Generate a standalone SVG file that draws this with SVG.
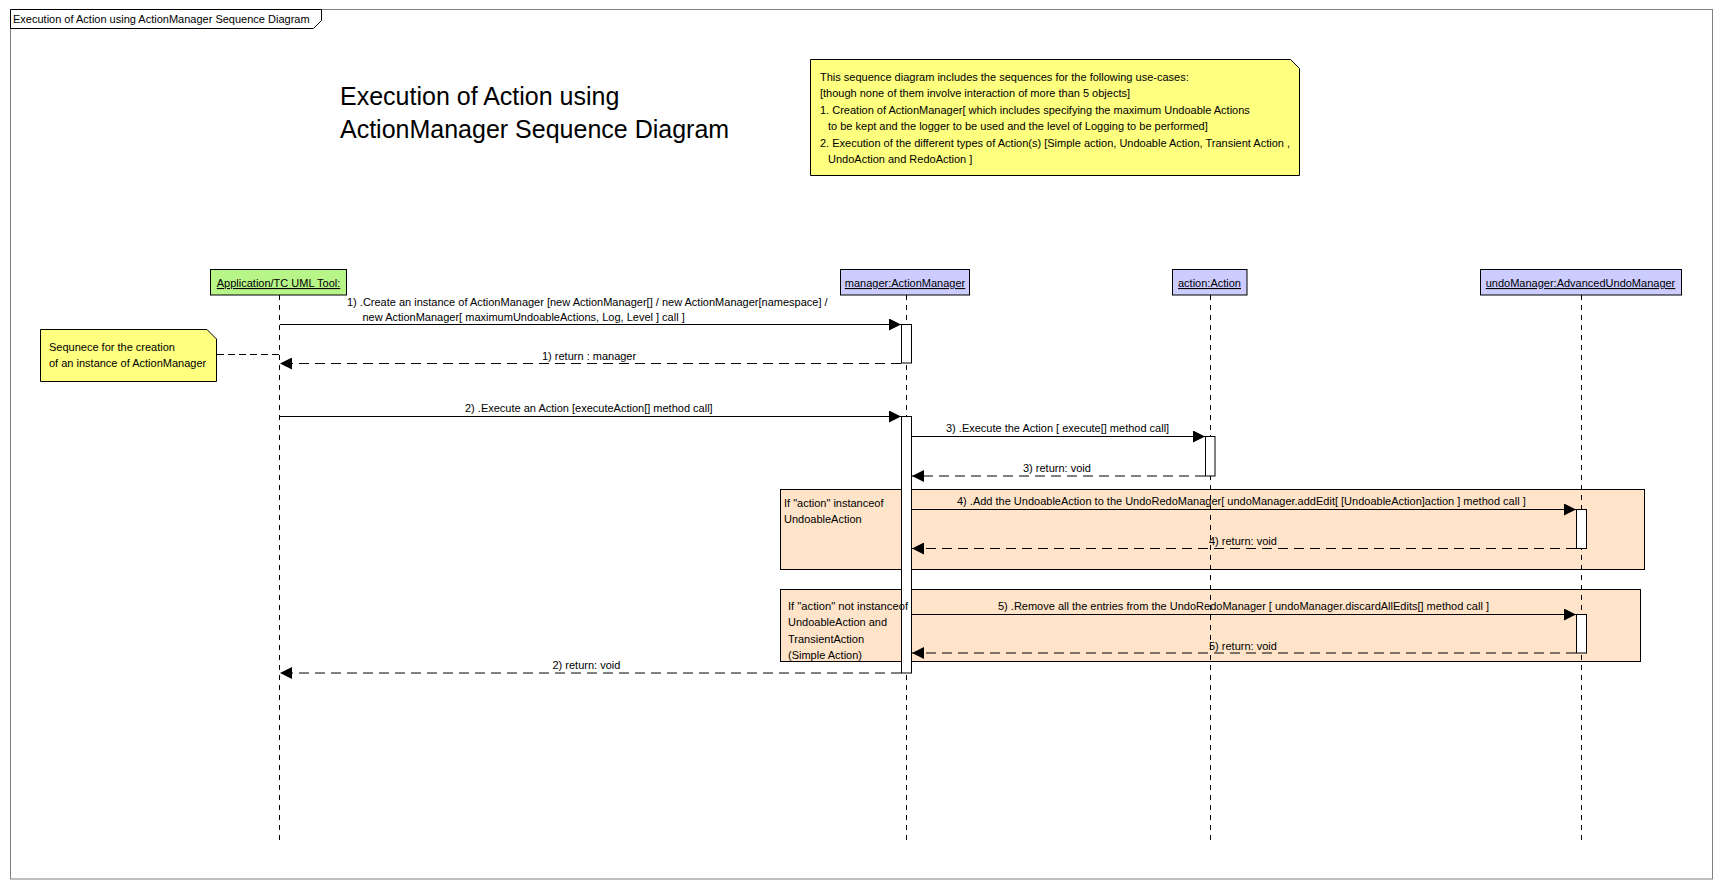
<svg xmlns="http://www.w3.org/2000/svg" width="1722" height="889" viewBox="0 0 1722 889">
<style>
text{font-family:"Liberation Sans",Arial,sans-serif;font-size:11px;fill:#000}
.title{font-size:25px}
.u{text-decoration:underline}
.ll{stroke:#000;stroke-width:1;stroke-dasharray:5,5;fill:none}
.msg{stroke:#000;stroke-width:1;fill:none}
.ret{stroke:#000;stroke-width:1;stroke-dasharray:10,6;fill:none}
.bar{fill:#fff;stroke:#000;stroke-width:1}
.note{fill:#ffff80;stroke:#000;stroke-width:1}
.frag{fill:#ffe4c9;stroke:#000;stroke-width:1}
.blue{fill:#ccccff;stroke:#000;stroke-width:1}
.green{fill:#b8f589;stroke:#000;stroke-width:1}
</style>
<defs>
<marker id="ah" markerWidth="12" markerHeight="12" refX="12" refY="6" orient="auto" markerUnits="userSpaceOnUse">
<path d="M0,0 L12,6 L0,12 Z" fill="#000" stroke="none"/>
</marker>
</defs>
<rect x="0" y="0" width="1722" height="889" fill="#fff"/>
<g id="frame">
<rect x="10.5" y="9.5" width="1702" height="869.5" fill="none" stroke="#808080" stroke-width="1"/>
<path d="M10.5,9.5 H321.5 V20.5 L313.5,28.5 H10.5 Z" fill="#fff" stroke="#000" stroke-width="1"/>
<text x="13" y="23">Execution of Action using ActionManager Sequence Diagram</text>
</g>
<g id="title">
<text class="title" x="340" y="104.5">Execution of Action using</text>
<text class="title" x="340" y="138">ActionManager Sequence Diagram</text>
</g>
<g id="note-usecases">
<path class="note" d="M810.5,59.5 H1290.5 L1299.5,68.5 V175.5 H810.5 Z"/>
<text x="820" y="80.5">This sequence diagram includes the sequences for the following use-cases:</text>
<text x="820" y="97">[though none of them involve interaction of more than 5 objects]</text>
<text x="820" y="113.5">1. Creation of ActionManager[ which includes specifying the maximum Undoable Actions</text>
<text x="828" y="130">to be kept and the logger to be used and the level of Logging to be performed]</text>
<text x="820" y="146.5">2. Execution of the different types of Action(s) [Simple action, Undoable Action, Transient Action ,</text>
<text x="828" y="162.5">UndoAction and RedoAction ]</text>
</g>
<g id="fragment-undoable">
<rect class="frag" x="780.5" y="489.5" width="864" height="80"/>
<text x="784" y="507">If "action" instanceof</text>
<text x="784" y="522.5">UndoableAction</text>
</g>
<g id="fragment-simple">
<rect class="frag" x="780.5" y="589.5" width="860" height="72"/>
<text x="788" y="626">UndoableAction and</text>
<text x="788" y="642.5">TransientAction</text>
<text x="788" y="658.5">(Simple Action)</text>
</g>
<g id="lifeline-app">
<rect class="green" x="210.5" y="269.5" width="136" height="25.5"/>
<text class="u" x="278.5" y="287" text-anchor="middle">Application/TC UML Tool:</text>
<line class="ll" x1="279.5" y1="295" x2="279.5" y2="843"/>
</g>
<g id="lifeline-manager">
<rect class="blue" x="840.5" y="269.5" width="129" height="25.5"/>
<text class="u" x="905" y="287" text-anchor="middle">manager:ActionManager</text>
<line class="ll" x1="906.5" y1="295" x2="906.5" y2="843"/>
<rect class="bar" x="901.5" y="324.5" width="10" height="38.5"/>
<rect class="bar" x="901.5" y="416.5" width="10" height="256.5"/>
</g>
<g id="lifeline-action">
<rect class="blue" x="1172.5" y="269.5" width="74.5" height="25.5"/>
<text class="u" x="1209.5" y="287" text-anchor="middle">action:Action</text>
<line class="ll" x1="1210.5" y1="295" x2="1210.5" y2="843"/>
<rect class="bar" x="1205.5" y="436.5" width="9.5" height="39.5"/>
</g>
<g id="lifeline-undo">
<rect class="blue" x="1480.5" y="269.5" width="201" height="25.5"/>
<text class="u" x="1580.5" y="287" text-anchor="middle">undoManager:AdvancedUndoManager</text>
<line class="ll" x1="1581.5" y1="295" x2="1581.5" y2="843"/>
<rect class="bar" x="1576.5" y="509.5" width="10" height="39"/>
<rect class="bar" x="1576.5" y="614.5" width="10" height="38.5"/>
</g>
<g id="fragment-simple-guard">
<text x="788" y="609.5" textLength="120" lengthAdjust="spacingAndGlyphs">If "action" not instanceof</text>
</g>
<g id="note-creation">
<path class="note" d="M40.5,329.5 H207 L216.5,339 V381.5 H40.5 Z"/>
<text x="49" y="351">Sequnece for the creation</text>
<text x="49" y="366.5">of an instance of ActionManager</text>
</g>
<g id="connectors">
<line class="ret" x1="217" y1="354.5" x2="279" y2="354.5" style="stroke-dasharray:7,4"/>
<line class="msg" x1="280" y1="324.5" x2="901" y2="324.5" marker-end="url(#ah)"/>
<text x="347" y="305.5">1) .Create an instance of ActionManager [new ActionManager[] / new ActionManager[namespace] /</text>
<text x="362.5" y="321">new ActionManager[ maximumUndoableActions, Log, Level ] call ]</text>
<line class="ret" x1="901" y1="363.5" x2="280" y2="363.5" marker-end="url(#ah)"/>
<text x="542" y="359.5">1) return : manager</text>
<line class="msg" x1="280" y1="416.5" x2="901" y2="416.5" marker-end="url(#ah)"/>
<text x="465" y="411.5">2) .Execute an Action [executeAction[] method call]</text>
<line class="msg" x1="912" y1="436.5" x2="1205" y2="436.5" marker-end="url(#ah)"/>
<text x="946" y="432">3) .Execute the Action [ execute[] method call]</text>
<line class="ret" x1="1205" y1="476" x2="912" y2="476" marker-end="url(#ah)"/>
<text x="1023" y="471.5">3) return: void</text>
<line class="msg" x1="912" y1="509.5" x2="1576" y2="509.5" marker-end="url(#ah)"/>
<text x="957" y="505">4) .Add the UndoableAction to the UndoRedoManager[ undoManager.addEdit[ [UndoableAction]action ] method call ]</text>
<line class="ret" x1="1576" y1="548.5" x2="912" y2="548.5" marker-end="url(#ah)"/>
<text x="1209" y="545">4) return: void</text>
<line class="msg" x1="912" y1="614.5" x2="1576" y2="614.5" marker-end="url(#ah)"/>
<text x="998" y="610">5) .Remove all the entries from the UndoRedoManager [ undoManager.discardAllEdits[] method call ]</text>
<line class="ret" x1="1576" y1="653" x2="912" y2="653" marker-end="url(#ah)"/>
<text x="1209" y="650">5) return: void</text>
<line class="ret" x1="901" y1="673" x2="280" y2="673" marker-end="url(#ah)"/>
<text x="552.5" y="669">2) return: void</text>
</g>
</svg>
